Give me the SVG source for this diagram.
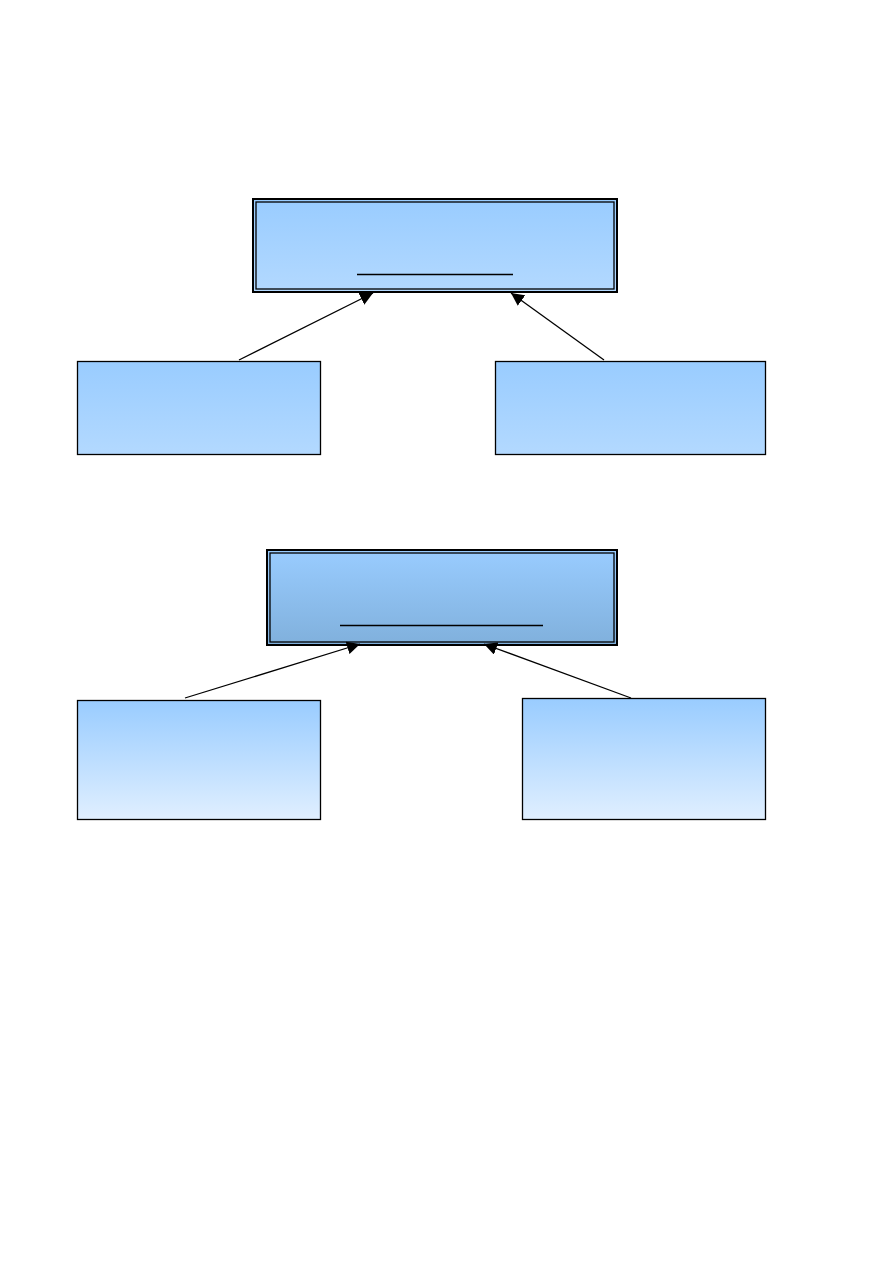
<svg xmlns="http://www.w3.org/2000/svg" width="893" height="1263" viewBox="0 0 893 1263">
<defs>
<linearGradient id="gTop" x1="0" y1="0" x2="0" y2="1"><stop offset="0" stop-color="#99ccff"/><stop offset="1" stop-color="#b3d9ff"/></linearGradient>
<linearGradient id="gMid" x1="0" y1="0" x2="0" y2="1"><stop offset="0" stop-color="#99ccff"/><stop offset="1" stop-color="#80b0dc"/></linearGradient>
<linearGradient id="gLow" x1="0" y1="0" x2="0" y2="1"><stop offset="0" stop-color="#99ccff"/><stop offset="1" stop-color="#e0efff"/></linearGradient>
<marker id="arr" viewBox="0 0 10 10" refX="10" refY="5" markerWidth="13" markerHeight="13" markerUnits="userSpaceOnUse" orient="auto"><path d="M0,0 L10,5 L0,10 z" fill="#000"/></marker>
<style>
.box{stroke:#000;stroke-width:1.3}
.outer{stroke:#000;stroke-width:2}
.inner{fill:none;stroke:#000;stroke-width:1.3}
.line{stroke:#000;stroke-width:1.3;fill:none}
.ul{stroke:#000;stroke-width:1.5}
</style>
</defs>
<rect width="893" height="1263" fill="#fff"/>
<g id="node-top">
<rect class="outer" x="253" y="199" width="364" height="93" fill="url(#gTop)"/>
<rect class="inner" x="256" y="202" width="358" height="87"/>
<line class="ul" x1="357" y1="274.5" x2="513" y2="274.5"/>
</g>
<g id="node-mid-left"><rect class="box" x="77.5" y="361.5" width="243" height="93" fill="url(#gTop)"/></g>
<g id="node-mid-right"><rect class="box" x="495.5" y="361.5" width="270" height="93" fill="url(#gTop)"/></g>
<g id="node-middle">
<rect class="outer" x="267" y="550" width="350" height="95" fill="url(#gMid)"/>
<rect class="inner" x="270" y="553" width="344" height="89"/>
<line class="ul" x1="340" y1="625.5" x2="543" y2="625.5"/>
</g>
<g id="node-low-left"><rect class="box" x="77.5" y="700.5" width="243" height="119" fill="url(#gLow)"/></g>
<g id="node-low-right"><rect class="box" x="522.5" y="698.5" width="243" height="121" fill="url(#gLow)"/></g>
<g id="connectors">
<line class="line" x1="239" y1="360" x2="373" y2="293" marker-end="url(#arr)"/>
<line class="line" x1="604" y1="360" x2="511" y2="293" marker-end="url(#arr)"/>
<line class="line" x1="185" y1="698" x2="360" y2="644" marker-end="url(#arr)"/>
<line class="line" x1="631" y1="698" x2="484" y2="644" marker-end="url(#arr)"/>
</g>
</svg>
